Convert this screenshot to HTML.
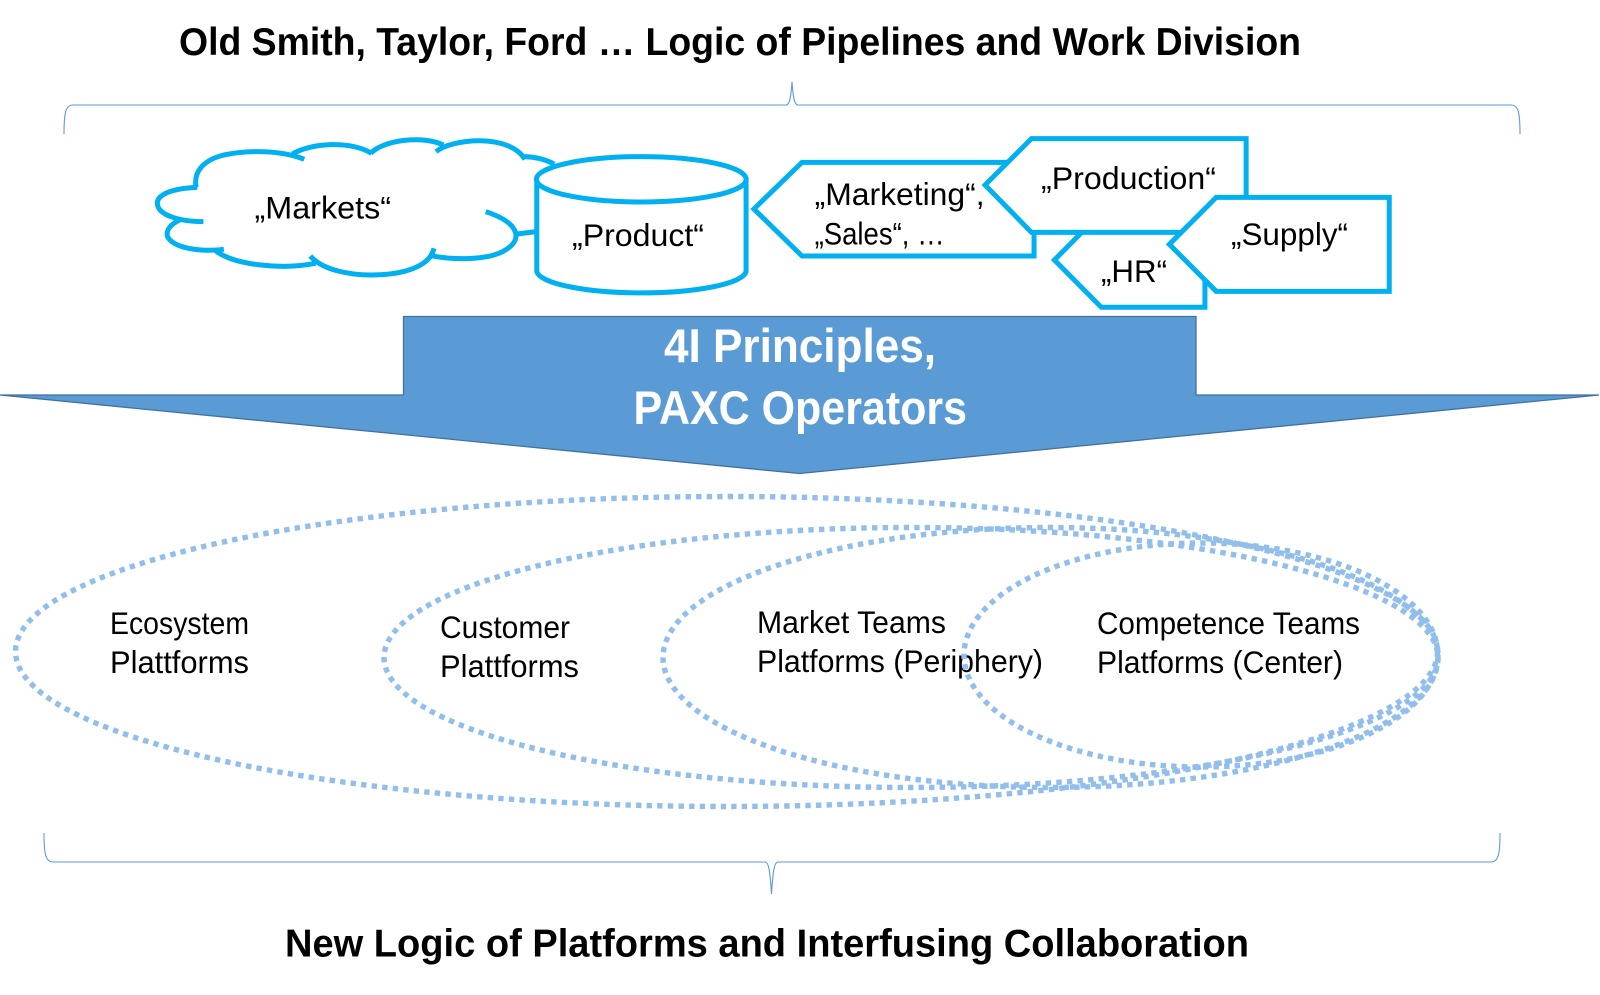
<!DOCTYPE html>
<html>
<head>
<meta charset="utf-8">
<style>
html,body{margin:0;padding:0;background:#fff;width:1600px;height:995px;overflow:hidden}
svg{display:block}
text{font-family:"Liberation Sans",sans-serif;fill:#000}
.l{font-size:31.500px}
.t{font-size:39px;font-weight:bold}
.w{font-size:47px;font-weight:bold;fill:#fff}
.s{fill:#fff;stroke:#00B0F0;stroke-width:5;vector-effect:non-scaling-stroke;stroke-linejoin:miter}
.c{fill:none;stroke:#00B0F0;stroke-width:5;vector-effect:non-scaling-stroke}
.b{fill:none;stroke:#5B9BD5;stroke-width:1.1}
.e{fill:none;stroke:#92BEEB;stroke-width:5.400;stroke-dasharray:5.400 5.200}
</style>
</head>
<body>
<svg width="1600" height="995" viewBox="0 0 1600 995" xmlns="http://www.w3.org/2000/svg">
<text class="t" x="179" y="55" textLength="1122" lengthAdjust="spacingAndGlyphs">Old Smith, Taylor, Ford … Logic of Pipelines and Work Division</text>
<path class="b" d="M64,134 C64,115 65,105 73,105 H786 C790,105 791,95 792,82 C793,95 794,105 798,105 H1511 C1519,105 1520,115 1520,134"/>

<g transform="translate(130,90) scale(0.408,0.3333)">
<path class="c" d="M165,292 C100,295 65,315 67,342 C70,375 120,395 180,395"/>
<path class="c" d="M122,390 C95,405 88,425 92,440 C105,470 160,488 230,478"/>
<path class="c" d="M208,480 C250,525 370,540 455,520"/>
<path class="c" d="M442,498 C470,540 540,555 590,555 C670,555 735,530 745,475"/>
<path class="c" d="M738,497 C790,510 880,512 920,480 C962,450 958,400 872,365"/>
<path class="c" d="M948,432 L995,425"/>
<path class="c" d="M427,208 C370,180 290,180 230,195 C180,210 155,245 162,292"/>
<path class="c" d="M398,192 C440,160 540,150 592,190"/>
<path class="c" d="M590,190 C620,150 720,135 768,165"/>
<path class="c" d="M750,185 C790,145 930,130 968,208"/>
<path class="c" d="M965,200 C995,200 1020,210 1040,222"/>
<path class="s" d="M997,268 V545 A257,68 0 0 0 1510,545 V268 Z"/>
<ellipse class="s" cx="1253" cy="268" rx="257" ry="68"/>
</g>
<text class="l" x="254.500" y="218.500" textLength="136.500" lengthAdjust="spacingAndGlyphs">„Markets“</text>
<text class="l" x="572" y="246" textLength="132" lengthAdjust="spacingAndGlyphs">„Product“</text>

<g transform="translate(740,90) scale(0.4337,0.3333)">
<polygon class="s" points="32,357 143,217 678,217 678,498 143,498"/>
<polygon class="s" points="725,510 833,368 1072,368 1072,652 833,652"/>
<polygon class="s" points="565,285 672,146 1167,146 1167,427 672,427"/>
<polygon class="s" points="990,463 1098,322 1497,322 1497,604 1098,604"/>
</g>
<text class="l" x="814.600" y="205" textLength="170" lengthAdjust="spacingAndGlyphs">„Marketing“,</text>
<text class="l" x="814.600" y="244.500" textLength="130" lengthAdjust="spacingAndGlyphs">„Sales“, …</text>
<text class="l" x="1041" y="189" textLength="175" lengthAdjust="spacingAndGlyphs">„Production“</text>
<text class="l" x="1231" y="245" textLength="117" lengthAdjust="spacingAndGlyphs">„Supply“</text>
<text class="l" x="1101" y="282" textLength="66" lengthAdjust="spacingAndGlyphs">„HR“</text>

<polygon points="403.500,316.500 1196,316.500 1196,395 1599,395 799.500,473.500 0,395 403.500,395" fill="#5B9BD5" stroke="#41719C" stroke-width="1.300"/>
<text class="w" x="664" y="362" textLength="272" lengthAdjust="spacingAndGlyphs">4I Principles,</text>
<text class="w" x="633.500" y="424" textLength="333.500" lengthAdjust="spacingAndGlyphs">PAXC Operators</text>

<text class="l" x="110" y="634" textLength="139" lengthAdjust="spacingAndGlyphs">Ecosystem</text>
<text class="l" x="110" y="673" textLength="139" lengthAdjust="spacingAndGlyphs">Plattforms</text>
<text class="l" x="440" y="638" textLength="130" lengthAdjust="spacingAndGlyphs">Customer</text>
<text class="l" x="440" y="677" textLength="139" lengthAdjust="spacingAndGlyphs">Plattforms</text>
<text class="l" x="757" y="633" textLength="189" lengthAdjust="spacingAndGlyphs">Market Teams</text>
<text class="l" x="757" y="672" textLength="286" lengthAdjust="spacingAndGlyphs">Platforms (Periphery)</text>
<text class="l" x="1097" y="634" textLength="263" lengthAdjust="spacingAndGlyphs">Competence Teams</text>
<text class="l" x="1097" y="673" textLength="246" lengthAdjust="spacingAndGlyphs">Platforms (Center)</text>

<ellipse class="e" cx="726.500" cy="651.500" rx="711" ry="155"/>
<ellipse class="e" cx="911" cy="657.500" rx="527" ry="130"/>
<ellipse class="e" cx="1050.500" cy="657.500" rx="387.500" ry="130"/>
<ellipse class="e" cx="1201" cy="655" rx="237" ry="112"/>

<path class="b" d="M44,833 C44,852 45,862 53,862 H765 C769,862 770,872 771.500,894 C773,872 774,862 778,862 H1491 C1499,862 1500,852 1500,833"/>
<text class="t" x="285" y="956.500" textLength="964" lengthAdjust="spacingAndGlyphs">New Logic of Platforms and Interfusing Collaboration</text>
</svg>
</body>
</html>
